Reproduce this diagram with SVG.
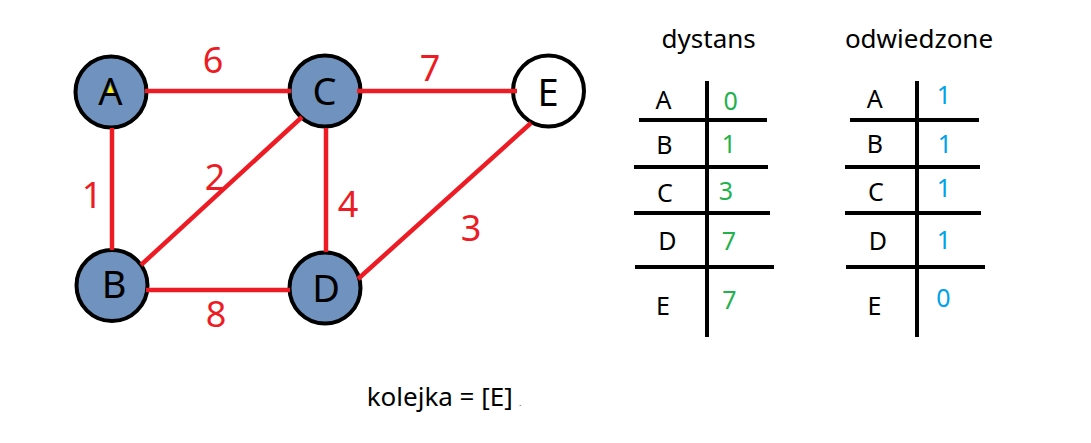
<svg xmlns="http://www.w3.org/2000/svg" width="1091" height="443" viewBox="0 0 1091 443">
<style>
.node{fill:#7092be;stroke:#000;stroke-width:4}
.open{fill:#fff;stroke:#000;stroke-width:4}
.nl{font-family:"Noto Sans","Open Sans",sans-serif;font-size:38px;fill:#000;text-anchor:middle}
.edge{stroke:#ed1c24;stroke-width:4.5;fill:none}
.el{font-family:"Noto Sans","Open Sans",sans-serif;font-size:36px;fill:#ed1c24;text-anchor:middle}
.hd{font-family:"Noto Sans","Open Sans",sans-serif;font-size:26px;fill:#000;text-anchor:middle}
.tl{font-family:"Noto Sans","Open Sans",sans-serif;font-size:25px;fill:#000;text-anchor:middle}
.g{font-family:"Noto Sans","Open Sans",sans-serif;font-size:25px;fill:#22b14c;text-anchor:middle}
.b{font-family:"Noto Sans","Open Sans",sans-serif;font-size:25px;fill:#00a2e8;text-anchor:middle}
.rule{stroke:#000;stroke-width:4;fill:none}
</style>
<rect width="1091" height="443" fill="#fff"/>
<g id="node-A"><circle class="node" cx="111" cy="92" r="35.5"/><polygon points="110.3,85 106.7,94.5 114.3,94.5" fill="#ffef00"/><text class="nl" x="110.5" y="105">A</text></g>
<g id="node-C"><circle class="node" cx="325" cy="91" r="35.5"/><text class="nl" x="324.5" y="105">C</text></g>
<g id="node-E"><circle class="open" cx="548.5" cy="91" r="35.5"/><text class="nl" x="548" y="106">E</text></g>
<g id="node-B"><circle class="node" cx="112" cy="285.5" r="35.5"/><text class="nl" x="114" y="298">B</text></g>
<g id="node-D"><circle class="node" cx="325" cy="288" r="35.5"/><text class="nl" x="326" y="301.5">D</text></g>
<g id="connectors">
<line class="edge" x1="145" y1="91" x2="291" y2="91"/>
<line class="edge" x1="357" y1="91" x2="517" y2="91"/>
<line class="edge" x1="112" y1="128" x2="112" y2="250"/>
<line class="edge" x1="326" y1="128" x2="326" y2="252"/>
<line class="edge" x1="146" y1="290" x2="290" y2="290"/>
<line class="edge" x1="141" y1="265" x2="302" y2="117"/>
<line class="edge" x1="531" y1="123" x2="358" y2="279"/>
<text class="el" x="213" y="73">6</text>
<text class="el" x="430" y="81">7</text>
<text class="el" x="92" y="208">1</text>
<text class="el" x="215" y="190">2</text>
<text class="el" x="348" y="217">4</text>
<text class="el" x="471" y="241">3</text>
<text class="el" x="216" y="327">8</text>
</g>
<g id="table-dystans">
<text class="hd" x="708.7" y="48">dystans</text>
<line class="rule" x1="707" y1="81" x2="707" y2="337"/>
<line class="rule" x1="639" y1="120" x2="767" y2="120"/>
<line class="rule" x1="634" y1="167" x2="768" y2="167"/>
<line class="rule" x1="634" y1="213" x2="770" y2="213"/>
<line class="rule" x1="635" y1="267" x2="774" y2="267"/>
<text class="tl" x="663.5" y="109">A</text>
<text class="tl" x="664.5" y="154">B</text>
<text class="tl" x="665" y="202">C</text>
<text class="tl" x="667.5" y="250">D</text>
<text class="tl" x="663" y="315">E</text>
<text class="g" x="730.7" y="110">0</text>
<text class="g" x="729" y="153">1</text>
<text class="g" x="726" y="200">3</text>
<text class="g" x="729" y="250">7</text>
<text class="g" x="729.5" y="309">7</text>
</g>
<g id="table-odwiedzone">
<text class="hd" x="919" y="48">odwiedzone</text>
<line class="rule" x1="917" y1="81" x2="917" y2="337"/>
<line class="rule" x1="850" y1="120" x2="979" y2="120"/>
<line class="rule" x1="845" y1="167" x2="980" y2="167"/>
<line class="rule" x1="845" y1="213" x2="981" y2="213"/>
<line class="rule" x1="846" y1="267" x2="985" y2="267"/>
<text class="tl" x="874.7" y="108">A</text>
<text class="tl" x="875" y="153">B</text>
<text class="tl" x="876" y="200.7">C</text>
<text class="tl" x="878" y="250">D</text>
<text class="tl" x="874.5" y="315">E</text>
<text class="b" x="944" y="104">1</text>
<text class="b" x="945" y="153">1</text>
<text class="b" x="944" y="197">1</text>
<text class="b" x="944" y="249">1</text>
<text class="b" x="943.5" y="306.7">0</text>
</g>
<g id="queue">
<text x="366.7" y="406" font-family="Noto Sans, Open Sans, sans-serif" font-size="26" fill="#000">kolejka = [E]</text>
<text x="519" y="406" font-family="Noto Sans, Open Sans, sans-serif" font-size="9" fill="#555">.</text>
</g>
</svg>
